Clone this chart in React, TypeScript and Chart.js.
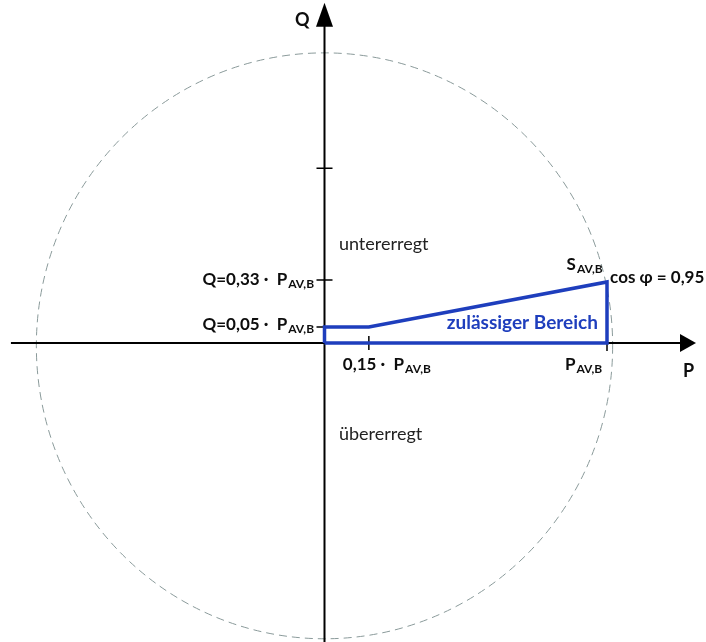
import React, { useEffect, useRef } from "react";
import { Chart, registerables } from "chart.js";

Chart.register(...registerables);

// Permissible operating region (P in units of P_AV,B, schematic Q)
const regionP = [0, 0, 0.157, 1, 1, 0];
const regionQ = [0, 0.057, 0.057, 0.216, 0, 0];

// Apparent power circle (schematic)
const circleCenter = [0, -0.01];
const circleRadius = [1.02, 1.037];

// Axis extents
const pAxisRange = [-1.11, 1.315];
const qAxisRange = [-1.07, 1.204];

// Tick marks
const qTicks = [0.619, 0.223];
const qTickSmall = [0.057];
const pTicks = [0.157];
const pTickBelow = [1];

// Labels
type Lbl = { t: string; sub?: string; x: number; y: number; align: "left" | "right"; style: string };
const labels: Lbl[] = [
  { t: "Q", x: -0.104, y: 1.122, align: "left", style: "axis" },
  { t: "P", x: 1.269, y: -0.12, align: "left", style: "axis" },
  { t: "untererregt", x: 0.051, y: 0.329, align: "left", style: "plain" },
  { t: "übererregt", x: 0.051, y: -0.343, align: "left", style: "plain" },
  { t: "Q=0,33 ·  P", sub: "AV,B", x: -0.037, y: 0.205, align: "right", style: "bold" },
  { t: "Q=0,05 ·  P", sub: "AV,B", x: -0.037, y: 0.046, align: "right", style: "bold" },
  { t: "0,15 ·  P", sub: "AV,B", x: 0.065, y: -0.096, align: "left", style: "bold" },
  { t: "P", sub: "AV,B", x: 0.851, y: -0.096, align: "left", style: "bold" },
  { t: "S", sub: "AV,B", x: 0.857, y: 0.258, align: "left", style: "bold" },
  { t: "cos φ = 0,95", x: 1.011, y: 0.212, align: "left", style: "bold" },
  { t: "zulässiger Bereich", x: 0.968, y: 0.05, align: "right", style: "blue" },
];

const BLUE = "#1e3ebd";
const FONT = "Lato, 'Open Sans', sans-serif";

const diagramPlugin = {
  id: "diagram",
  beforeDatasetsDraw(chart: any) {
    const ctx = chart.ctx as CanvasRenderingContext2D;
    const xs = chart.scales.x;
    const ys = chart.scales.y;
    const X = (v: number) => xs.getPixelForValue(v);
    const Y = (v: number) => ys.getPixelForValue(v);
    ctx.save();
    // circle
    const cx = X(circleCenter[0]);
    const cy = Y(circleCenter[1]);
    const rx = X(circleRadius[0]) - X(0);
    const ry = Y(0) - Y(circleRadius[1]);
    ctx.strokeStyle = "#8a9a9a";
    ctx.lineWidth = 1;
    ctx.setLineDash([8, 5]);
    ctx.beginPath();
    ctx.ellipse(cx, cy, rx, ry, 0, 0, Math.PI * 2);
    ctx.stroke();
    ctx.setLineDash([]);

    // axes
    ctx.strokeStyle = "#000";
    ctx.fillStyle = "#000";
    ctx.lineWidth = 2;
    const x0 = X(0), y0 = Y(0);
    const xTip = X(pAxisRange[1]);
    const yTip = Y(qAxisRange[1]);
    ctx.beginPath();
    ctx.moveTo(X(pAxisRange[0]), y0);
    ctx.lineTo(xTip - 12, y0);
    ctx.moveTo(x0, Y(qAxisRange[0]));
    ctx.lineTo(x0, yTip + 16);
    ctx.stroke();
    // arrows
    ctx.beginPath();
    ctx.moveTo(xTip, y0);
    ctx.lineTo(xTip - 16, y0 - 9);
    ctx.lineTo(xTip - 16, y0 + 9);
    ctx.closePath();
    ctx.fill();
    ctx.beginPath();
    ctx.moveTo(x0, yTip);
    ctx.lineTo(x0 - 8.5, yTip + 24);
    ctx.lineTo(x0 + 8.5, yTip + 24);
    ctx.closePath();
    ctx.fill();

    // ticks
    ctx.lineWidth = 1.5;
    ctx.beginPath();
    qTicks.forEach((q) => {
      ctx.moveTo(x0 - 8, Y(q));
      ctx.lineTo(x0 + 8, Y(q));
    });
    qTickSmall.forEach((q) => {
      ctx.moveTo(x0 - 8, Y(q));
      ctx.lineTo(x0, Y(q));
    });
    pTicks.forEach((p) => {
      ctx.moveTo(X(p), y0 - 7);
      ctx.lineTo(X(p), y0 + 7);
    });
    pTickBelow.forEach((p) => {
      ctx.moveTo(X(p), y0);
      ctx.lineTo(X(p), y0 + 8);
    });
    ctx.stroke();
    ctx.restore();
  },
  afterDatasetsDraw(chart: any) {
    const ctx = chart.ctx as CanvasRenderingContext2D;
    const xs = chart.scales.x;
    const ys = chart.scales.y;
    ctx.save();
    ctx.textBaseline = "alphabetic";
    labels.forEach((l) => {
      let main = `bold 17px ${FONT}`;
      let color = "#0d0d0d";
      if (l.style === "plain") { main = `18px ${FONT}`; color = "#222"; }
      if (l.style === "axis") { main = `bold 18px ${FONT}`; color = "#0d0d0d"; }
      if (l.style === "blue") { main = `bold 19px ${FONT}`; color = BLUE; }
      const subFont = `bold 12px ${FONT}`;
      ctx.font = main;
      const wMain = ctx.measureText(l.t).width;
      ctx.font = subFont;
      const wSub = l.sub ? ctx.measureText(l.sub).width + 1 : 0;
      const total = wMain + wSub;
      let px = xs.getPixelForValue(l.x);
      const py = ys.getPixelForValue(l.y);
      if (l.align === "right") px -= total;
      ctx.fillStyle = color;
      ctx.textAlign = "left";
      ctx.font = main;
      ctx.fillText(l.t, px, py);
      if (l.sub) {
        ctx.font = subFont;
        ctx.fillText(l.sub, px + wMain + 1, py + 3);
      }
    });
    ctx.restore();
  },
};

export default function App() {
  const ref = useRef<HTMLCanvasElement>(null);
  useEffect(() => {
    if (!ref.current) return;
    const data = regionP.map((p, i) => ({ x: p, y: regionQ[i] }));
    const chart = new Chart(ref.current, {
      type: "scatter",
      data: {
        datasets: [
          {
            data,
            showLine: true,
            borderColor: BLUE,
            backgroundColor: BLUE,
            borderWidth: 3.5,
            pointRadius: 0,
            tension: 0,
            borderJoinStyle: "miter",
          } as any,
        ],
      },
      options: {
        responsive: false,
        animation: false,
        events: [],
        layout: { padding: 0 },
        plugins: { legend: { display: false }, tooltip: { enabled: false }, title: { display: false } },
        scales: {
          x: { type: "linear", display: false, min: -324.5 / 282.5, max: (706 - 324.5) / 282.5 },
          y: { type: "linear", display: false, min: -(642 - 343) / 282.5, max: 343 / 282.5 },
        },
      },
      plugins: [diagramPlugin],
    });
    return () => chart.destroy();
  }, []);
  return (
    <div style={{ position: "absolute", left: 0, top: 0, width: 706, height: 642, background: "#fff" }}>
      <canvas ref={ref} width={706} height={642} style={{ display: "block" }} />
    </div>
  );
}
